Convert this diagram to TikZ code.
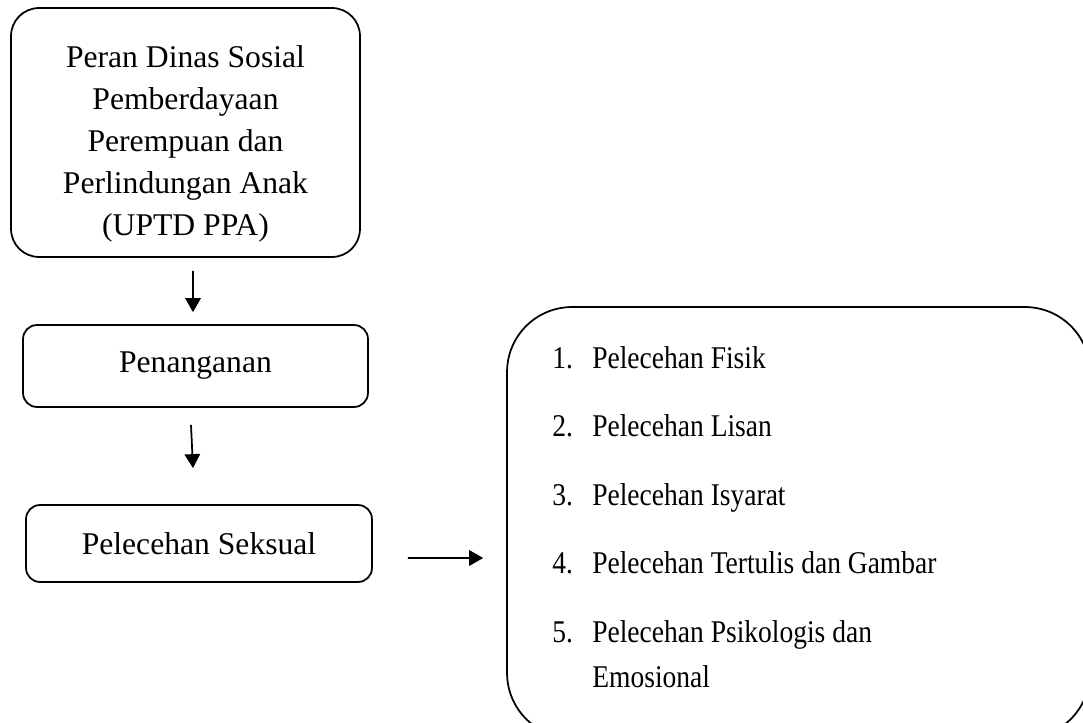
\documentclass[tikz,border=0pt]{standalone}
\usepackage{fontspec}
\setmainfont{Liberation Serif}
\newfontfamily\listfont[FakeStretch=0.87]{Liberation Serif}
\usetikzlibrary{arrows.meta, positioning, calc}

\begin{document}
\begin{tikzpicture}[
  x=0.02cm, y=-0.02cm,
  box/.style={draw, line width=1pt, rounded corners=0.28cm, align=center,
              inner sep=0pt, font=\fontsize{18}{24}\selectfont},
  arr/.style={-{Triangle[length=0.28cm, width=0.31cm]}, line width=1pt}
]
  \useasboundingbox (0,0) rectangle (1083,723);
  \clip (0,0) rectangle (1083,723);

  % Left column
  \node[box, rounded corners=0.56cm, minimum width=6.98cm, minimum height=4.98cm]
    (peran) at (185.5,132.5)
    {\rule{0pt}{0.9cm}Peran Dinas Sosial\\Pemberdayaan\\Perempuan dan\\Perlindungan Anak\\(UPTD PPA)};
  \node[box, minimum width=6.9cm, minimum height=1.64cm] (pen) at (195.5,366) {Penanganan};
  \node[box, minimum width=6.92cm, minimum height=1.54cm] (sek) at (199,543.5) {Pelecehan Seksual};

  % Right list
  \node[box, rounded corners=1.3cm, minimum width=11.66cm, minimum height=8.62cm]
    (list) at (798.5,522.5) {};
  \node[anchor=base west, inner sep=0pt, font=\fontsize{18}{24}\listfont] (items) at (552,368)
    {\begin{tabular}[t]{@{}p{0.8cm}@{}l@{}}
      1. & Pelecehan Fisik\\[15pt]
      2. & Pelecehan Lisan\\[15pt]
      3. & Pelecehan Isyarat\\[15pt]
      4. & Pelecehan Tertulis dan Gambar\\[15pt]
      5. & Pelecehan Psikologis dan\\[2pt]
         & Emosional
    \end{tabular}};

  % Arrows
  \draw[arr] ([xshift=0.15cm, yshift=-0.26cm]peran.south) -- ([xshift=-0.05cm, yshift=0.24cm]pen.north);
  \draw[arr] ([xshift=-0.09cm, yshift=-0.34cm]pen.south) -- ([xshift=-0.12cm, yshift=0.72cm]sek.north);
  \draw[arr] ([xshift=0.7cm, yshift=-0.29cm]sek.east) -- ([xshift=-0.46cm, yshift=-0.71cm]list.west);
\end{tikzpicture}
\end{document}
